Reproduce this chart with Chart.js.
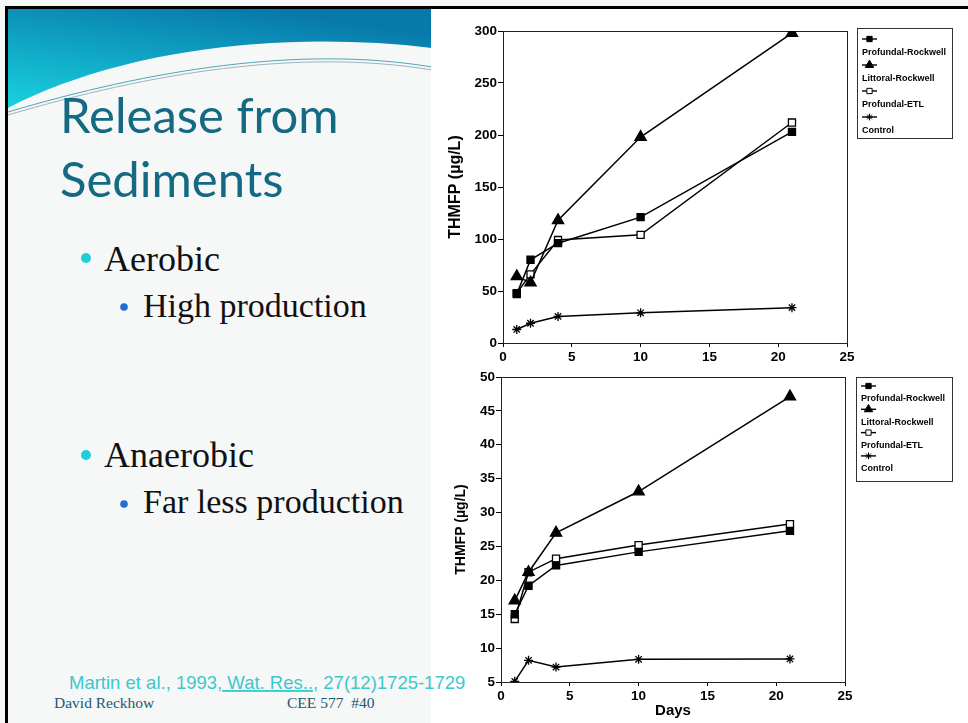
<!DOCTYPE html>
<html>
<head>
<meta charset="utf-8">
<script src="https://cdn.jsdelivr.net/npm/chart.js@4.4.0/dist/chart.umd.min.js"></script>
<style>
  body { margin: 0; background: #fff; }
  #slide { position: relative; width: 968px; height: 723px; overflow: hidden; }
  #deco { position: absolute; left: 0; top: 0; }
  #topChart { position: absolute; left: 432px; top: 9px; }
  #bottomChart { position: absolute; left: 432px; top: 365px; }
  .title { font-family: Lato, "Open Sans", sans-serif; font-size: 49px; fill: #136a82; }
  .lvl1 { font-family: "Liberation Serif", "Times New Roman", serif; font-size: 36px; fill: #111; }
  .lvl2 { font-family: "Liberation Serif", "Times New Roman", serif; font-size: 34px; fill: #111; }
  .cite { font-family: "Liberation Sans", Arial, sans-serif; font-size: 18.5px; fill: #3cc8cc; }
  .foot { font-family: "Liberation Serif", "Times New Roman", serif; font-size: 15.5px; fill: #1d5770; }
</style>
</head>
<body>
<div id="slide">
  <svg id="deco" width="968" height="723">
    <defs>
      <linearGradient id="hdr" x1="0" y1="1" x2="0.6" y2="0">
        <stop offset="0" stop-color="#19d2e0"/>
        <stop offset="1" stop-color="#0779aa"/>
      </linearGradient>
    </defs>
    <rect width="968" height="723" fill="#f6f7f7"/>
    <path d="M8 9 H432 V48 C280 30 120 50 8 108 Z" fill="url(#hdr)"/>
    <path d="M8 112 C150 70 300 45 432 67" fill="none" stroke="#4fa6b8" stroke-width="1"/>
    <path d="M8 115 C150 73 300 48 432 70" fill="none" stroke="#9db4c0" stroke-width="1"/>
    <rect x="431" y="9" width="537" height="714" fill="#fff"/>
    <rect x="5" y="6" width="963" height="3" fill="#000"/>
    <rect x="5" y="6" width="3" height="717" fill="#000"/>

    <text class="title" x="60" y="133">Release from</text>
    <text class="title" x="60" y="197">Sediments</text>

    <circle cx="86" cy="258" r="5" fill="#1ccfd8"/>
    <text class="lvl1" x="104" y="271">Aerobic</text>
    <circle cx="124" cy="307" r="3.8" fill="#1f6fd1"/>
    <text class="lvl2" x="143" y="317">High production</text>

    <circle cx="86" cy="455" r="5" fill="#1ccfd8"/>
    <text class="lvl1" x="104" y="467">Anaerobic</text>
    <circle cx="124" cy="504" r="3.8" fill="#1f6fd1"/>
    <text class="lvl2" x="143" y="513">Far less production</text>

    <text class="cite" x="69" y="689">Martin et al., 1993,<tspan text-decoration="underline"> Wat. Res..</tspan>, 27(12)1725-1729</text>
    <text class="foot" x="54" y="708">David Reckhow</text>
    <text class="foot" x="287" y="708" xml:space="preserve">CEE 577  #40</text>
  </svg>
  <canvas id="topChart" width="536" height="356"></canvas>
  <canvas id="bottomChart" width="536" height="358"></canvas>
</div>
<script>
// sampling days
let days = [1, 2, 4, 10, 21];
let seriesNames = ["Profundal-Rockwell", "Littoral-Rockwell", "Profundal-ETL", "Control"];

// aerobic (top chart), THMFP ug/L
let aerobicProfundalRockwell = [47, 80, 96, 121, 203];
let aerobicLittoralRockwell = [64, 58, 118, 198, 298];
let aerobicProfundalETL = [48, 66, 99, 104, 212];
let aerobicControl = [13, 19, 25.5, 29, 34];

// anaerobic (bottom chart)
let anaerobicProfundalRockwell = [15, 19.2, 22.2, 24.2, 27.3];
let anaerobicLittoralRockwell = [17, 21.2, 27, 33.1, 47.1];
let anaerobicProfundalETL = [14.3, 21.2, 23.2, 25.2, 28.3];
let anaerobicControl = [5.1, 8.2, 7.2, 8.35, 8.4];

let tickFont = { family: "'Liberation Sans', Arial, sans-serif", size: 13.5, weight: "bold" };

// marker look for each series
let markers = [
  { pointStyle: "rect", radius: 5, fill: "#000" },
  { pointStyle: "triangle", radius: 6.5, fill: "#000" },
  { pointStyle: "rect", radius: 5, fill: "#fff" },
  { pointStyle: "star", radius: 4.5, fill: "#000" }
];

function points(values) {
  return days.map((d, i) => ({ x: d, y: values[i] }));
}

function makeDatasets(lists) {
  return lists.map((vals, i) => ({
    label: seriesNames[i],
    data: points(vals),
    borderColor: "#000",
    borderWidth: 1.5,
    tension: 0,
    pointStyle: markers[i].pointStyle,
    pointRadius: markers[i].radius,
    pointBackgroundColor: markers[i].fill,
    pointBorderColor: "#000",
    pointBorderWidth: 1.3
  }));
}

// box around the plot area
let frame = {
  id: "frame",
  beforeDatasetsDraw(chart) {
    let a = chart.chartArea;
    let ctx = chart.ctx;
    ctx.save();
    ctx.strokeStyle = "#222";
    ctx.lineWidth = 1;
    ctx.strokeRect(Math.round(a.left) + 0.5, Math.round(a.top) + 0.5, Math.round(a.right - a.left), Math.round(a.bottom - a.top));
    ctx.restore();
  }
};

// legend: symbol line above each label, inside a box
let boxLegend = {
  id: "boxLegend",
  afterDraw(chart, args, opts) {
    let ctx = chart.ctx;
    ctx.save();
    ctx.strokeStyle = "#333";
    ctx.lineWidth = 1;
    ctx.strokeRect(opts.x + 0.5, opts.y + 0.5, opts.w, opts.h);
    ctx.font = "bold 9px 'Liberation Sans', Arial, sans-serif";
    ctx.textBaseline = "middle";
    chart.data.datasets.forEach((ds, i) => {
      let sy = opts.y + opts.first + i * opts.step;
      ctx.strokeStyle = "#000";
      ctx.lineWidth = 1.4;
      ctx.beginPath();
      ctx.moveTo(opts.x + 5, sy);
      ctx.lineTo(opts.x + 20, sy);
      ctx.stroke();
      ctx.fillStyle = markers[i].fill;
      ctx.lineWidth = 1;
      Chart.helpers.drawPoint(ctx, {
        pointStyle: ds.pointStyle,
        radius: markers[i].radius * 0.75,
        rotation: 0,
        borderWidth: 1
      }, opts.x + 12.5, sy);
      ctx.fillStyle = "#000";
      ctx.fillText(ds.label, opts.x + 5, sy + opts.gap);
    });
    ctx.restore();
  }
};

function makeChart(id, lists, cfg) {
  return new Chart(document.getElementById(id), {
    type: "line",
    data: { datasets: makeDatasets(lists) },
    options: {
      responsive: false,
      animation: false,
      devicePixelRatio: 1,
      layout: { padding: { top: cfg.padTop, right: cfg.padRight, left: 0, bottom: 0 } },
      plugins: {
        legend: { display: false },
        tooltip: { enabled: false },
        boxLegend: cfg.legend
      },
      scales: {
        x: {
          type: "linear",
          min: 0,
          max: 25,
          ticks: { stepSize: 5, color: "#000", font: tickFont, padding: 2, maxRotation: 0 },
          grid: { drawOnChartArea: false, color: "#000", tickLength: 4 },
          border: { display: false },
          title: {
            display: cfg.xTitle != null,
            text: cfg.xTitle,
            color: "#000",
            font: { family: "'Liberation Sans', Arial, sans-serif", size: 15, weight: "bold" },
            padding: { top: 0, bottom: 3 }
          },
          afterFit(scale) { scale.height = cfg.xHeight; }
        },
        y: {
          min: cfg.yMin,
          max: cfg.yMax,
          ticks: { stepSize: cfg.yStep, color: "#000", font: tickFont, padding: 1 },
          grid: { drawOnChartArea: false, color: "#000", tickLength: 5 },
          border: { display: false },
          title: {
            display: true,
            text: "THMFP (µg/L)",
            color: "#000",
            font: { family: "'Liberation Sans', Arial, sans-serif", size: cfg.yTitleSize, weight: "bold" },
            padding: { top: cfg.yTitlePad, bottom: 0 }
          },
          afterFit(scale) { scale.width = cfg.yWidth; }
        }
      }
    },
    plugins: [frame, boxLegend]
  });
}

makeChart("topChart",
  [aerobicProfundalRockwell, aerobicLittoralRockwell, aerobicProfundalETL, aerobicControl],
  {
    padTop: 22, padRight: 121, xHeight: 22, yWidth: 71,
    yMin: 0, yMax: 300, yStep: 50, yTitleSize: 16, yTitlePad: 14,
    xTitle: null,
    legend: { x: 425, y: 19, w: 95, h: 110, first: 11, step: 26, gap: 14 }
  });

makeChart("bottomChart",
  [anaerobicProfundalRockwell, anaerobicLittoralRockwell, anaerobicProfundalETL, anaerobicControl],
  {
    padTop: 12, padRight: 123, xHeight: 41, yWidth: 69,
    yMin: 5, yMax: 50, yStep: 5, yTitleSize: 14, yTitlePad: 21,
    xTitle: "Days",
    legend: { x: 424, y: 12, w: 96, h: 104, first: 9, step: 23.3, gap: 13 }
  });
</script>
</body>
</html>
